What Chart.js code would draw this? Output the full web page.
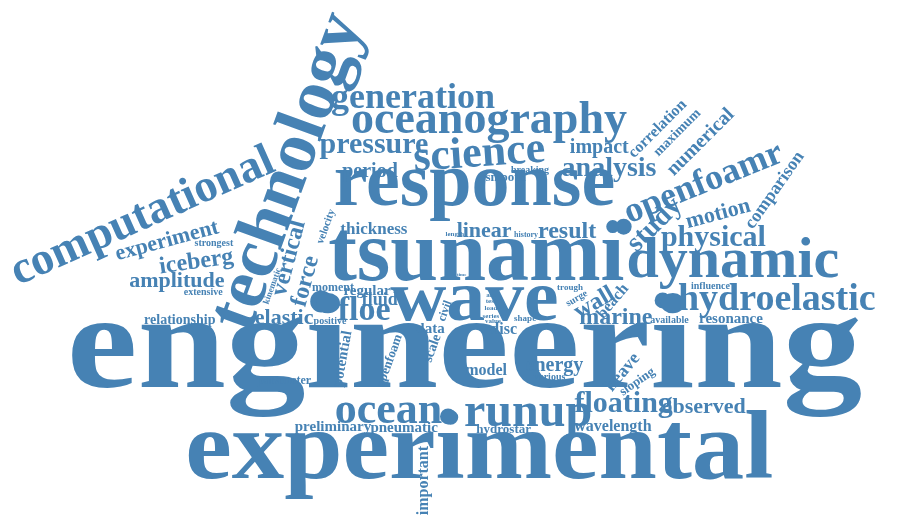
<!DOCTYPE html>
<html lang="en">
<head>
<meta charset="UTF-8">
<title>Word cloud</title>
<script src="https://cdn.jsdelivr.net/npm/chart.js@4"></script>
<style>html,body{margin:0;padding:0;background:#fff}#c{display:block}</style>
</head>
<body>
<div style="width:900px;height:529px"><canvas id="c"></canvas></div>
<script>
    // words, position in the cloud (0..900 x 0..529), font size and rotation
    var words = ["engineering","experimental","tsunami","response","wave","technology","computational","dynamic","hydroelastic","oceanography",
        "generation","pressure","science","openfoamr","analysis","period","physical","study","motion","comparison",
        "numerical","maximum","correlation","impact","result","linear","thickness","smooth","breaking","history",
        "length","time","experiment","strongest","iceberg","amplitude","extensive","vertical","force","velocity",
        "kinematic","relationship","elastic","positive","moment","regular","fluid","floe","civil","data",
        "scale","openfoam","potential","parameter","disc","are","test","load","series","value",
        "shape","trough","surge","wall","beach","marine","available","influence","resonance","model",
        "energy","various","heave","sloping","ocean","runup","floating","observed","preliminary","pneumatic",
        "hydrostar","wavelength","important"];
    var xs = [465,480,477,475,475,285,135,740,785,490,
        412,372,480,710,613,368,720,660,725,783,
        707,683,663,603,570,485,372,507,532,528,
        455,462,160,208,190,170,197,285,302,323,
        268,173,280,327,330,365,378,362,445,430,
        432,388,340,280,505,492,492,492,492,494,
        527,573,580,598,617,620,675,717,738,487,
        557,552,627,642,387,530,628,710,330,403,
        505,617,423];
    var ys = [356,461,257,182,303,168,215,262,302,115,
        92,140,150,180,165,168,237,223,212,187,
        137,127,123,143,230,230,228,174,166,234,
        233,275,240,242,262,282,294,258,282,225,
        287,323,321,324,289,292,302,313,313,332,
        352,365,363,386,333,297,303,310,318,324,
        321,289,300,305,303,320,323,287,322,375,
        370,382,377,387,418,420,410,413,434,435,
        437,434,490];
    var sizes = [136,98,86,76,72,72,46,58,38,46,
        36,30,44,36,28,20,30,28,22,18,
        20,14,16,20,24,22,17,13,10,8,
        7,5,22,10,24,22,10,24,24,11,
        9,14,22,10,12,15,18,34,12,15,
        14,13,15,12,16,7,7,7,7,7,
        9,9,10,24,16,24,10,10,15,16,
        20,10,18,13,44,48,30,22,15,15,
        13,16,16];
    var angles = [0,0,0,0,0,-70,-24,0,0,0,
        0,0,-4,-22,0,0,0,-45,-15,-55,
        -45,-45,-45,0,0,0,0,0,0,0,
        0,0,-15,0,-8,0,0,-75,-75,-70,
        -70,0,0,0,0,0,0,0,-70,0,
        -70,-70,-80,0,0,0,0,0,0,0,
        0,0,-30,-30,-50,0,0,0,0,0,
        0,0,-50,-35,0,0,0,0,0,0,
        0,0,-90];
    // horizontal stretch for the widest words
    var stretch = {engineering: 1.17, experimental: 1.07, wave: 1.08};

    // free-standing dots
    var dotX = [628,318,668,448];
    var dotY = [225,303,302,423];
    var dotR = [8,11,8,8];

    var colour = "#4682b4";

    var wordPlugin = {
        id: "words",
        afterDatasetsDraw: function (chart) {
            var ctx = chart.ctx;
            var meta = chart.getDatasetMeta(0);
            ctx.save();
            ctx.fillStyle = colour;
            ctx.textAlign = "center";
            ctx.textBaseline = "middle";
            meta.data.forEach(function (pt, i) {
                ctx.save();
                ctx.translate(pt.x, pt.y);
                ctx.rotate(angles[i] * Math.PI / 180);
                ctx.scale(stretch[words[i]] || 1, 1);
                ctx.font = "bold " + sizes[i] + "px 'Liberation Serif', 'DejaVu Serif', serif";
                ctx.fillText(words[i], 0, 0);
                ctx.restore();
            });
            ctx.restore();
        }
    };

    new Chart(document.getElementById("c"), {
        type: "scatter",
        data: {
            datasets: [{
                label: "words",
                data: xs.map(function (x, i) { return {x: x, y: ys[i]}; }),
                pointRadius: 0
            }, {
                label: "dots",
                data: dotX.map(function (x, i) { return {x: x, y: dotY[i]}; }),
                pointRadius: dotR,
                backgroundColor: colour,
                borderWidth: 0
            }]
        },
        options: {
            responsive: true,
            maintainAspectRatio: false,
            animation: false,
            layout: {padding: 0},
            plugins: {legend: {display: false}, tooltip: {enabled: false}},
            scales: {
                x: {type: "linear", min: 0, max: 900, display: false},
                y: {type: "linear", min: 0, max: 529, reverse: true, display: false}
            }
        },
        plugins: [wordPlugin]
    });
</script>
</body>
</html>
